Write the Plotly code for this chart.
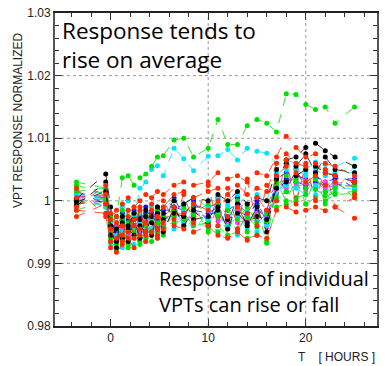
import plotly.graph_objects as go

T = [-3.5, -0.5, 0.0, 0.6, 1.2, 1.8, 2.4, 3.0, 3.6, 4.2, 4.8, 5.4, 6.5, 7.5, 8.5,
     10.0, 11.0, 12.0, 13.0, 14.0, 15.0, 16.0, 17.0, 18.0, 19.0, 20.0, 21.0, 22.0, 23.0, 25.0]

B1 = [1.0008, 1.0005, 0.9965, 0.9950, 0.9970, 0.9960, 0.9975, 0.9965, 0.9980, 0.9970, 0.9985, 0.9975, 0.9990, 0.9985, 0.9990,
      0.9990, 0.9995, 0.9985, 0.9995, 0.9980, 0.9995, 0.9985, 1.0035, 1.0045, 1.0040, 1.0035, 1.0040, 1.0030, 1.0035, 1.0035]
B2 = [0.9995, 1.0000, 0.9950, 0.9960, 0.9955, 0.9970, 0.9960, 0.9975, 0.9965, 0.9980, 0.9970, 0.9985, 0.9985, 0.9995, 0.9985,
      0.9980, 0.9990, 0.9975, 0.9985, 0.9975, 0.9985, 0.9975, 1.0025, 1.0035, 1.0030, 1.0025, 1.0030, 1.0025, 1.0025, 1.0030]
B3 = [1.0015, 0.9995, 0.9975, 0.9940, 0.9980, 0.9945, 0.9985, 0.9950, 0.9990, 0.9955, 0.9990, 0.9960, 1.0005, 0.9975, 1.0000,
      0.9965, 1.0005, 0.9965, 1.0005, 0.9970, 1.0000, 0.9965, 1.0040, 1.0015, 1.0050, 1.0020, 1.0045, 1.0015, 1.0040, 1.0020]
M1 = [1.0002, 1.0008, 0.9960, 0.9945, 0.9955, 0.9945, 0.9958, 0.9950, 0.9962, 0.9955, 0.9960, 0.9958, 0.9975, 0.9970, 0.9978,
      0.9975, 0.9968, 0.9972, 0.9965, 0.9970, 0.9968, 0.9972, 1.0025, 1.0030, 1.0028, 1.0032, 1.0025, 1.0030, 1.0028, 1.0032]
M2 = [0.9998, 1.0003, 0.9952, 0.9960, 0.9948, 0.9962, 0.9950, 0.9965, 0.9955, 0.9968, 0.9958, 0.9972, 0.9982, 0.9978, 0.9985,
      0.9968, 0.9978, 0.9962, 0.9975, 0.9965, 0.9978, 0.9968, 1.0018, 1.0025, 1.0022, 1.0028, 1.0020, 1.0024, 1.0022, 1.0026]
M3 = [1.0010, 0.9990, 0.9965, 0.9935, 0.9965, 0.9940, 0.9960, 0.9945, 0.9970, 0.9950, 0.9975, 0.9955, 0.9985, 0.9965, 0.9975,
      0.9960, 0.9980, 0.9955, 0.9985, 0.9960, 0.9980, 0.9958, 1.0030, 1.0020, 1.0035, 1.0015, 1.0035, 1.0020, 1.0030, 1.0022]
C1 = [1.0010, 1.0015, 0.9950, 0.9945, 0.9990, 1.0000, 0.9975, 1.0020, 1.0030, 1.0050, 1.0056, 1.0040, 1.0084, 1.0067, 1.0048,
      1.0071, 1.0072, 1.0082, 1.0065, 1.0084, 1.0079, 1.0076, 1.0060, 1.0065, 1.0060, 1.0050, 1.0062, 1.0058, 1.0055, 1.0068]
C2 = [1.0000, 1.0010, 0.9960, 0.9940, 0.9950, 0.9935, 0.9955, 0.9940, 0.9960, 0.9955, 0.9945, 0.9970, 0.9975, 0.9965, 0.9985,
      0.9970, 0.9980, 0.9960, 0.9975, 0.9955, 0.9970, 0.9960, 1.0010, 1.0025, 1.0020, 1.0010, 1.0025, 1.0015, 1.0020, 1.0020]
C3 = [1.0012, 1.0000, 0.9965, 0.9975, 0.9965, 0.9985, 0.9970, 0.9980, 0.9975, 0.9990, 0.9980, 0.9990, 1.0000, 0.9995, 1.0005,
      0.9990, 1.0005, 0.9995, 1.0010, 0.9995, 1.0010, 1.0000, 1.0045, 1.0060, 1.0050, 1.0040, 1.0050, 1.0040, 1.0045, 1.0045]
C4 = [1.0005, 0.9990, 0.9930, 0.9955, 0.9925, 0.9960, 0.9930, 0.9965, 0.9935, 0.9970, 0.9940, 0.9975, 0.9955, 0.9985, 0.9950,
      0.9985, 0.9950, 0.9990, 0.9945, 0.9985, 0.9950, 0.9980, 1.0000, 1.0050, 1.0005, 1.0045, 1.0010, 1.0050, 1.0015, 1.0055]
G1 = [1.0030, 1.0020, 0.9960, 0.9975, 1.0037, 1.0040, 1.0025, 1.0037, 1.0043, 1.0055, 1.0070, 1.0072, 1.0097, 1.0100, 1.0070,
      1.0084, 1.0130, 1.0090, 1.0090, 1.0120, 1.0130, 1.0124, 1.0110, 1.0171, 1.0170, 1.0154, 1.0146, 1.0150, 1.0124, 1.0150]
G2 = [0.9995, 1.0005, 0.9935, 0.9925, 0.9940, 0.9930, 0.9945, 0.9935, 0.9950, 0.9945, 0.9955, 0.9960, 0.9965, 0.9970, 0.9975,
      0.9955, 0.9960, 0.9945, 0.9950, 0.9940, 0.9945, 0.9935, 0.9990, 0.9995, 1.0000, 0.9995, 1.0005, 1.0000, 1.0010, 1.0012]
G3 = [1.0015, 1.0020, 0.9975, 0.9955, 0.9985, 0.9965, 0.9990, 0.9970, 0.9960, 0.9975, 0.9965, 0.9980, 0.9985, 0.9990, 0.9980,
      0.9995, 0.9975, 0.9985, 0.9970, 0.9990, 0.9965, 0.9980, 1.0025, 1.0040, 1.0030, 1.0020, 1.0035, 1.0015, 1.0020, 1.0025]
G4 = [1.0025, 1.0010, 0.9940, 0.9930, 0.9960, 0.9925, 0.9950, 0.9960, 0.9940, 0.9965, 0.9950, 0.9975, 0.9975, 0.9980, 0.9960,
      0.9965, 0.9950, 0.9970, 0.9955, 0.9975, 0.9958, 0.9968, 1.0005, 1.0015, 1.0005, 1.0010, 1.0018, 1.0008, 1.0012, 1.0015]
G5 = [0.9985, 1.0000, 0.9950, 0.9920, 0.9970, 0.9935, 0.9980, 0.9930, 0.9975, 0.9935, 0.9985, 0.9945, 0.9990, 0.9960, 0.9995,
      0.9950, 0.9995, 0.9945, 1.0000, 0.9950, 0.9990, 0.9932, 1.0030, 1.0000, 1.0035, 0.9995, 1.0040, 0.9995, 1.0030, 1.0005]
K1 = [1.0003, 1.0043, 0.9990, 0.9935, 0.9975, 0.9960, 0.9980, 0.9970, 0.9985, 0.9975, 0.9990, 0.9980, 1.0000, 0.9995, 1.0005,
      1.0000, 1.0010, 1.0000, 1.0015, 0.9995, 1.0005, 1.0000, 1.0050, 1.0065, 1.0070, 1.0085, 1.0092, 1.0080, 1.0070, 1.0055]
K2 = [0.9998, 1.0015, 0.9945, 0.9955, 0.9940, 0.9955, 0.9945, 0.9960, 0.9950, 0.9965, 0.9955, 0.9970, 0.9980, 0.9975, 0.9970,
      0.9975, 0.9985, 0.9970, 0.9980, 0.9965, 0.9975, 0.9970, 1.0020, 1.0030, 1.0040, 1.0050, 1.0055, 1.0045, 1.0040, 1.0030]
K3 = [0.9992, 1.0030, 0.9960, 0.9925, 0.9965, 0.9935, 0.9970, 0.9940, 0.9975, 0.9945, 0.9980, 0.9950, 0.9990, 0.9960, 0.9985,
      0.9960, 0.9990, 0.9955, 0.9995, 0.9960, 0.9990, 0.9950, 1.0035, 1.0060, 1.0055, 1.0075, 1.0045, 1.0070, 1.0050, 1.0045]
R1 = [0.9975, 0.9995, 0.9970, 0.9985, 0.9995, 1.0005, 0.9990, 1.0000, 1.0010, 1.0005, 1.0015, 1.0010, 1.0025, 1.0030, 1.0025,
      1.0030, 1.0045, 1.0035, 1.0040, 1.0030, 1.0045, 1.0040, 1.0070, 1.0103, 1.0085, 1.0070, 1.0075, 1.0060, 1.0055, 1.0040]
R2 = [0.9985, 0.9980, 0.9925, 0.9918, 0.9930, 0.9940, 0.9925, 0.9945, 0.9935, 0.9950, 0.9945, 0.9955, 0.9960, 0.9955, 0.9950,
      0.9960, 0.9945, 0.9940, 0.9950, 0.9937, 0.9945, 0.9940, 0.9985, 0.9990, 0.9982, 0.9985, 0.9990, 0.9984, 0.9990, 0.9972]
R3 = [1.0005, 1.0010, 0.9955, 0.9940, 0.9960, 0.9950, 0.9970, 0.9955, 0.9965, 0.9950, 0.9975, 0.9965, 0.9990, 0.9980, 0.9995,
      0.9985, 1.0000, 0.9975, 0.9990, 0.9980, 1.0005, 0.9985, 1.0040, 1.0055, 1.0045, 1.0030, 1.0040, 1.0025, 1.0030, 1.0010]
R4 = [0.9990, 1.0025, 0.9980, 0.9965, 0.9945, 0.9975, 0.9960, 0.9985, 0.9945, 0.9985, 0.9955, 0.9990, 1.0010, 1.0015, 1.0005,
      1.0015, 1.0020, 1.0010, 1.0025, 1.0010, 1.0020, 1.0015, 1.0060, 1.0075, 1.0060, 1.0055, 1.0060, 1.0045, 1.0040, 1.0030]
R5 = [1.0020, 0.9975, 0.9935, 0.9975, 0.9935, 0.9985, 0.9940, 0.9990, 0.9950, 0.9995, 0.9940, 1.0000, 0.9970, 1.0010, 0.9965,
      1.0025, 0.9960, 1.0020, 0.9955, 1.0035, 0.9960, 1.0025, 1.0000, 1.0065, 0.9995, 1.0060, 1.0000, 1.0050, 0.9990, 1.0005]

BLUE, MAG, CYAN, GREEN, BLACK, RED = "#1010ff", "#ff44ff", "#00e5ff", "#00e000", "#000000", "#ff2a00"
SERIES = [
    (B1, BLUE), (B2, BLUE), (B3, BLUE), (M1, MAG), (M2, MAG), (M3, MAG),
    (C1, CYAN), (C2, CYAN), (C3, CYAN), (C4, CYAN),
    (G1, GREEN), (G2, GREEN), (G3, GREEN), (G4, GREEN), (G5, GREEN),
    (K1, BLACK), (K2, BLACK), (K3, BLACK),
    (R1, RED), (R2, RED), (R3, RED), (R4, RED), (R5, RED),
]

Y_TICKS = [0.98, 0.99, 1.0, 1.01, 1.02, 1.03]
Y_TICKTEXT = ["0.98", "0.99", "1", "1.01", "1.02", "1.03"]
X_TICKS = [0, 10, 20]
X_TICKTEXT = ["0", "10", "20"]

fig = go.Figure()
for vals, col in SERIES:
    fig.add_trace(go.Scatter(
        x=T, y=vals, mode="lines+markers",
        line=dict(color=col, width=0.8, dash="dash"),
        marker=dict(color=col, size=5, line=dict(width=0)),
        showlegend=False, hoverinfo="skip"))

grid = dict(color="#999999", width=1, dash="dot")
for yv in [0.99, 1.0, 1.01, 1.02]:
    fig.add_shape(type="line", xref="paper", yref="y", x0=0, x1=1, y0=yv, y1=yv,
                  line=grid, layer="below")
for xv in [10, 20]:
    fig.add_shape(type="line", xref="x", yref="paper", x0=xv, x1=xv, y0=0, y1=1,
                  line=grid, layer="below")

tickfont = dict(family="Liberation Sans, Arial, sans-serif", size=12, color="#222222")
fig.update_layout(
    width=385, height=366,
    margin=dict(l=55, r=6, t=12, b=40),
    paper_bgcolor="white", plot_bgcolor="white",
    xaxis=dict(range=[-5.7, 27.3], tickvals=X_TICKS, ticktext=X_TICKTEXT,
               ticks="inside", ticklen=7, tickcolor="#333", showgrid=False, zeroline=False,
               showline=True, linecolor="#222", linewidth=1.5, mirror="ticks",
               tickfont=tickfont,
               minor=dict(dtick=2, ticks="inside", ticklen=4, tickcolor="#333", showgrid=False)),
    yaxis=dict(range=[0.98, 1.03], tickvals=Y_TICKS, ticktext=Y_TICKTEXT,
               ticks="inside", ticklen=7, tickcolor="#333", showgrid=False, zeroline=False,
               showline=True, linecolor="#555", linewidth=1.8, mirror="ticks",
               tickfont=tickfont,
               minor=dict(dtick=0.002, ticks="inside", ticklen=4, tickcolor="#333", showgrid=False)),
)

fig.add_annotation(xref="paper", yref="paper", x=-0.117, y=(1 - (120 - 12) / 314), xanchor="center", yanchor="middle",
                   text="VPT RESPONSE NORMALIZED", showarrow=False, textangle=-90,
                   font=dict(family="Liberation Sans, Arial, sans-serif", size=12, color="#222"))
fig.add_annotation(xref="paper", yref="paper", x=0.015, y=1.0, xanchor="left", yanchor="top",
                   text="Response tends to<br>rise on average", showarrow=False, align="left",
                   font=dict(family="Open Sans, sans-serif", size=22.5, color="black"))
fig.add_annotation(xref="paper", yref="paper", x=0.982, y=0.02, xanchor="right", yanchor="bottom",
                   text="Response of individual<br>VPTs can rise or fall", showarrow=False, align="left",
                   font=dict(family="Open Sans, sans-serif", size=20, color="black"))
fig.add_annotation(xref="paper", yref="paper", x=1.0, y=-0.1, xanchor="right", yanchor="middle",
                   text="T    [ HOURS ]", showarrow=False,
                   font=dict(family="Liberation Sans, Arial, sans-serif", size=12, color="#222"))

fig.write_html("out.html")
